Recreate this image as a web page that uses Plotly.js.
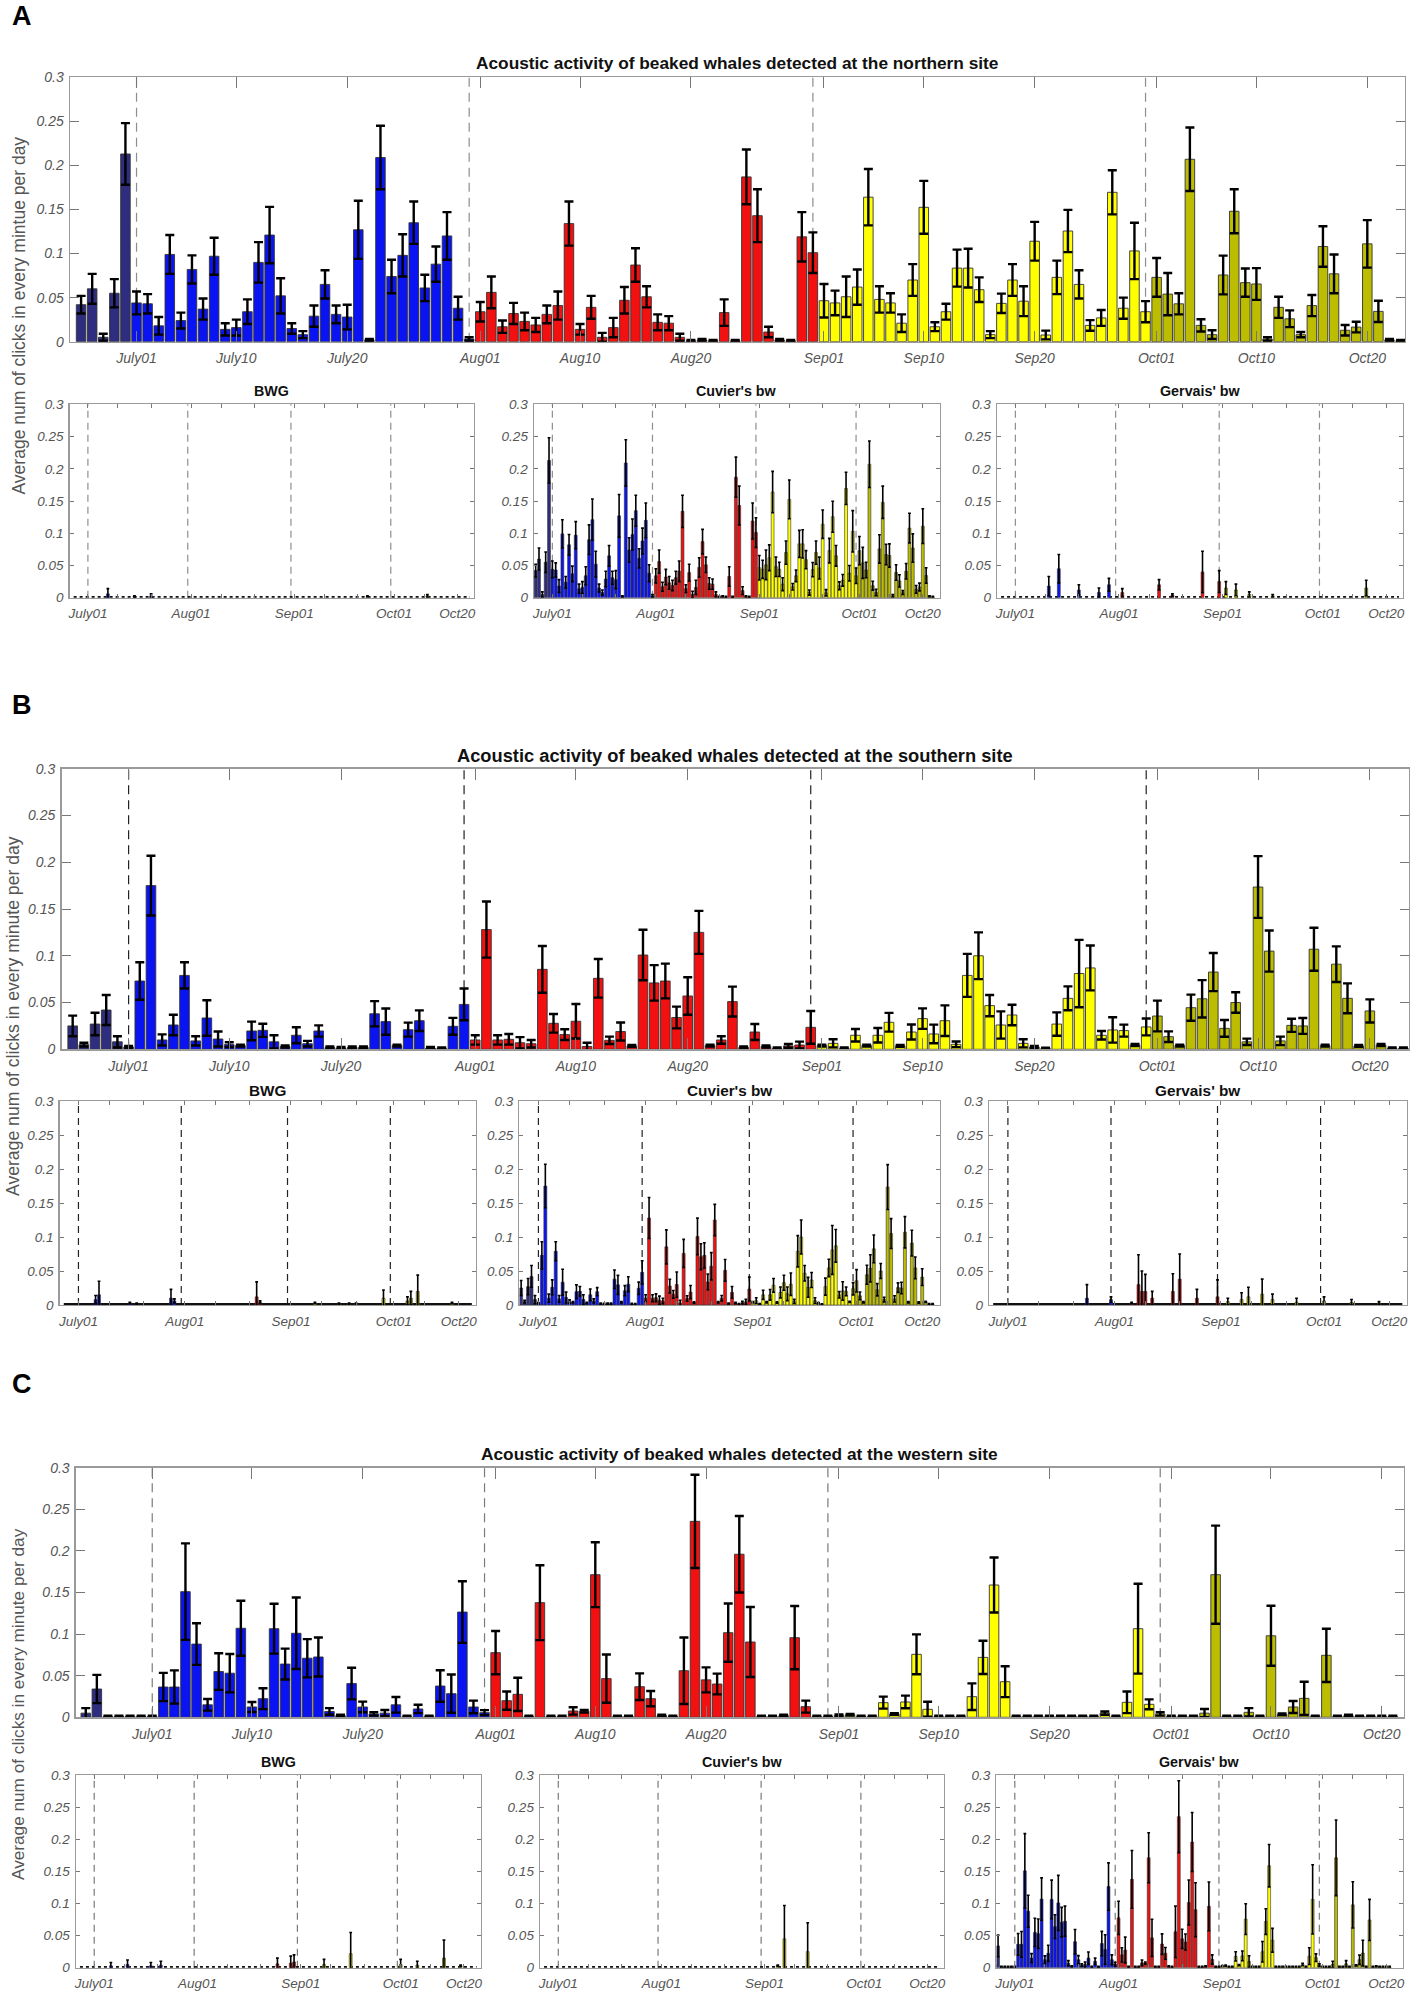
<!DOCTYPE html>
<html>
<head>
<meta charset="utf-8">
<script src="https://cdn.plot.ly/plotly-3.0.1.min.js"></script>
<style>
  html, body { margin: 0; padding: 0; background: #fff; }
  #chart { width: 1416px; height: 1998px; }
</style>
</head>
<body>
<div id="chart"></div>
<script>
// day index: 0 = July 1, 31 = Aug 1, 62 = Sep 1, 92 = Oct 1
const tickDays = [0, 9, 19, 31, 40, 50, 62, 71, 81, 92, 101, 111];
const tickLabels = ["July01", "July10", "July20", "Aug01", "Aug10", "Aug20", "Sep01", "Sep10", "Sep20", "Oct01", "Oct10", "Oct20"];
const smallTickLabels = ["July01", "", "", "Aug01", "", "", "Sep01", "", "", "Oct01", "", "Oct20"];
const monthStarts = [0, 31, 62, 92];
const monthColors = ["#2f2d80", "#0a14f2", "#f21010", "#ffff00", "#bcbc00"];
const monthLineDays = [0, 30, 61, 91];
const yTicks = [0, 0.05, 0.1, 0.15, 0.2, 0.25, 0.3];

// northern site, daily, first value = June 26 (day -5)
const northStart = -5;
const northVal = [0.042, 0.060, 0.005, 0.055, 0.213,
  0.044, 0.043, 0.018, 0.099, 0.024, 0.082, 0.037, 0.097, 0.014, 0.016,
  0.034, 0.090, 0.121, 0.052, 0.015, 0.008, 0.029, 0.065, 0.031, 0.028,
  0.127, 0.002, 0.209, 0.074, 0.098, 0.135, 0.061, 0.088, 0.120, 0.038,
  0.003, 0.034, 0.056, 0.017, 0.032, 0.023, 0.019, 0.031, 0.041, 0.134,
  0.014, 0.039, 0.005, 0.016, 0.047, 0.087, 0.051, 0.022, 0.021, 0.005,
  0.001, 0.002, 0.001, 0.033, 0.001, 0.187, 0.143, 0.011, 0.002, 0.001,
  0.119, 0.101, 0.0465, 0.044, 0.051, 0.062, 0.164, 0.048, 0.044, 0.021,
  0.070, 0.1525, 0.017, 0.034, 0.0835, 0.0835, 0.059, 0.008, 0.0435, 0.070,
  0.046, 0.114, 0.0076, 0.073, 0.1256, 0.065, 0.0185, 0.027, 0.1695, 0.038,
  0.103, 0.034, 0.073, 0.054, 0.043, 0.207, 0.0185, 0.008, 0.0757, 0.148,
  0.067, 0.0655, 0.003, 0.039, 0.026, 0.008, 0.041, 0.108, 0.077, 0.013,
  0.0166, 0.111, 0.0344, 0.002, 0.001];
const northErr = [0.010, 0.017, 0.004, 0.016, 0.035,
  0.013, 0.011, 0.010, 0.022, 0.009, 0.016, 0.012, 0.021, 0.007, 0.009,
  0.014, 0.023, 0.032, 0.020, 0.006, 0.004, 0.012, 0.016, 0.010, 0.014,
  0.033, 0.001, 0.036, 0.019, 0.024, 0.024, 0.015, 0.020, 0.027, 0.013,
  0.002, 0.011, 0.018, 0.007, 0.012, 0.010, 0.008, 0.010, 0.016, 0.025,
  0.006, 0.013, 0.005, 0.011, 0.015, 0.019, 0.012, 0.009, 0.008, 0.004,
  0.001, 0.001, 0.001, 0.015, 0.001, 0.031, 0.030, 0.006, 0.001, 0.001,
  0.028, 0.023, 0.019, 0.014, 0.023, 0.020, 0.032, 0.015, 0.011, 0.010,
  0.018, 0.030, 0.005, 0.009, 0.021, 0.022, 0.014, 0.004, 0.011, 0.018,
  0.017, 0.022, 0.005, 0.019, 0.024, 0.016, 0.006, 0.009, 0.025, 0.012,
  0.032, 0.012, 0.022, 0.024, 0.012, 0.036, 0.007, 0.005, 0.022, 0.025,
  0.016, 0.018, 0.002, 0.012, 0.0095, 0.003, 0.012, 0.023, 0.022, 0.006,
  0.006, 0.027, 0.012, 0.001, 0.001];

// southern site, first value = June 26 (day -5)
const southStart = -5;
const southVal = [0.025, 0.005, 0.027, 0.042, 0.008,
  0.0025, 0.073, 0.175, 0.010, 0.026, 0.079, 0.009, 0.0335, 0.011, 0.005,
  0.004, 0.0196, 0.0203, 0.008, 0.003, 0.015, 0.006, 0.0196, 0.002, 0.0014,
  0.002, 0.002, 0.038, 0.0296, 0.004, 0.021, 0.0306, 0.0014, 0.001, 0.0246,
  0.048, 0.010, 0.128, 0.010, 0.0107, 0.007, 0.006, 0.0855, 0.0278, 0.0157,
  0.030, 0.003, 0.0759, 0.0096, 0.019, 0.0036, 0.1008, 0.071, 0.073, 0.034,
  0.057, 0.125, 0.004, 0.010, 0.051, 0.002, 0.0185, 0.003, 0.001, 0.0036,
  0.0046, 0.0235, 0.004, 0.0064, 0.001, 0.015, 0.004, 0.015, 0.0289, 0.0036,
  0.0185, 0.0328, 0.0164, 0.0306, 0.0053, 0.079, 0.100, 0.0467, 0.026, 0.0367,
  0.0064, 0.0025, 0.0007, 0.027, 0.0545, 0.081, 0.087, 0.015, 0.0207, 0.020,
  0.0046, 0.0239, 0.0356, 0.0135, 0.004, 0.0445, 0.054, 0.0826, 0.0224, 0.050,
  0.008, 0.1735, 0.105, 0.009, 0.0256, 0.025, 0.107, 0.004, 0.091, 0.0545,
  0.0036, 0.041, 0.0046, 0.001, 0.001];
const southErr = [0.011, 0.002, 0.012, 0.016, 0.006,
  0.001, 0.020, 0.032, 0.006, 0.011, 0.014, 0.005, 0.019, 0.008, 0.0025,
  0.001, 0.010, 0.007, 0.007, 0.001, 0.0085, 0.003, 0.006, 0.001, 0.001,
  0.001, 0.001, 0.0135, 0.014, 0.001, 0.0075, 0.011, 0.001, 0.001, 0.009,
  0.017, 0.005, 0.030, 0.005, 0.0057, 0.006, 0.004, 0.025, 0.010, 0.0057,
  0.0185, 0.004, 0.0206, 0.004, 0.0096, 0.001, 0.027, 0.019, 0.0186, 0.0116,
  0.020, 0.023, 0.001, 0.004, 0.016, 0.001, 0.0086, 0.001, 0.001, 0.002,
  0.0036, 0.0175, 0.001, 0.0043, 0.001, 0.0067, 0.001, 0.0078, 0.010, 0.001,
  0.008, 0.011, 0.010, 0.0164, 0.003, 0.023, 0.025, 0.0113, 0.0146, 0.011,
  0.0043, 0.001, 0.001, 0.0125, 0.0128, 0.036, 0.024, 0.0046, 0.0136, 0.0064,
  0.001, 0.009, 0.0164, 0.0057, 0.001, 0.014, 0.020, 0.0204, 0.009, 0.011,
  0.0034, 0.033, 0.022, 0.0045, 0.007, 0.0085, 0.023, 0.001, 0.019, 0.016,
  0.001, 0.0124, 0.001, 0.001, 0.001];

// western site, first value = June 25 (day -6)
const westStart = -6;
const westVal = [0.005, 0.034, 0.001, 0.001, 0.001, 0.001,
  0.001, 0.0364, 0.0364, 0.151, 0.088, 0.015, 0.055, 0.053, 0.107, 0.0124,
  0.0224, 0.1065, 0.064, 0.101, 0.071, 0.0725, 0.007, 0.002, 0.0405, 0.0124,
  0.004, 0.005, 0.015, 0.001, 0.010, 0.001, 0.0376, 0.0284, 0.1265, 0.0124,
  0.0056, 0.0777, 0.020, 0.0276, 0.001, 0.1378, 0.001, 0.001, 0.0076, 0.0072,
  0.1714, 0.0465, 0.001, 0.001, 0.0368, 0.0224, 0.002, 0.001, 0.056, 0.2355,
  0.045, 0.040, 0.1017, 0.196, 0.0905, 0.001, 0.001, 0.002, 0.0957, 0.0128,
  0.001, 0.001, 0.0024, 0.003, 0.001, 0.001, 0.0176, 0.004, 0.0184, 0.0757,
  0.0096, 0.001, 0.001, 0.001, 0.0248, 0.072, 0.159, 0.0428, 0.001, 0.001,
  0.001, 0.001, 0.001, 0.001, 0.001, 0.001, 0.005, 0.001, 0.018, 0.1065,
  0.0156, 0.004, 0.001, 0.001, 0.001, 0.005, 0.1714, 0.001, 0.001, 0.006,
  0.001, 0.098, 0.0036, 0.0124, 0.0228, 0.001, 0.0745, 0.001, 0.002, 0.001,
  0.001, 0.001, 0.001];
const westErr = [0.006, 0.017, 0.001, 0.001, 0.001, 0.001,
  0.001, 0.017, 0.020, 0.058, 0.025, 0.007, 0.022, 0.023, 0.033, 0.006,
  0.0126, 0.030, 0.0185, 0.043, 0.023, 0.0235, 0.004, 0.001, 0.019, 0.0064,
  0.002, 0.0038, 0.0094, 0.001, 0.005, 0.001, 0.019, 0.023, 0.037, 0.0076,
  0.003, 0.026, 0.011, 0.020, 0.001, 0.045, 0.001, 0.001, 0.0044, 0.0016,
  0.039, 0.029, 0.001, 0.001, 0.016, 0.0092, 0.001, 0.001, 0.040, 0.056,
  0.015, 0.0125, 0.035, 0.046, 0.042, 0.001, 0.001, 0.001, 0.038, 0.0072,
  0.001, 0.001, 0.001, 0.001, 0.001, 0.001, 0.0072, 0.001, 0.0076, 0.024,
  0.009, 0.001, 0.001, 0.001, 0.016, 0.020, 0.033, 0.0185, 0.001, 0.001,
  0.001, 0.001, 0.001, 0.001, 0.001, 0.001, 0.002, 0.001, 0.013, 0.054,
  0.006, 0.002, 0.001, 0.001, 0.001, 0.005, 0.059, 0.001, 0.001, 0.005,
  0.001, 0.036, 0.001, 0.0072, 0.020, 0.001, 0.032, 0.001, 0.001, 0.001,
  0.001, 0.001, 0.001];

// sparse species panels: day index, mean, error
const northBwgDay = [6, 14, 19, 84, 102];
const northBwgVal = [0.006, 0.002, 0.003, 0.002, 0.003];
const northBwgErr = [0.008, 0.001, 0.003, 0.001, 0.002];
const northGerDay = [10, 13, 19, 25, 28, 32, 43, 47, 56, 61, 63, 66, 70, 77, 105];
const northGerVal = [0.018, 0.045, 0.012, 0.008, 0.020, 0.008, 0.020, 0.004, 0.040, 0.025, 0.015, 0.012, 0.005, 0.003, 0.015];
const northGerErr = [0.015, 0.022, 0.008, 0.007, 0.010, 0.006, 0.008, 0.002, 0.032, 0.017, 0.010, 0.009, 0.004, 0.002, 0.012];

const southBwgDay = [5, 6, 15, 17, 27, 28, 52, 53, 69, 76, 79, 81, 89, 96, 97, 99, 109];
const southBwgVal = [0.008, 0.015, 0.003, 0.002, 0.010, 0.006, 0.012, 0.004, 0.003, 0.002, 0.002, 0.002, 0.010, 0.006, 0.010, 0.020, 0.003];
const southBwgErr = [0.006, 0.020, 0.001, 0.001, 0.013, 0.003, 0.022, 0.002, 0.001, 0.001, 0.001, 0.001, 0.012, 0.006, 0.010, 0.024, 0.001];
const southGerDay = [23, 30, 36, 38, 39, 40, 42, 48, 50, 55, 61, 64, 68, 70, 74, 77, 84, 92, 100, 108];
const southGerVal = [0.010, 0.008, 0.003, 0.030, 0.020, 0.020, 0.010, 0.020, 0.038, 0.010, 0.012, 0.005, 0.008, 0.012, 0.016, 0.008, 0.004, 0.006, 0.004, 0.003];
const southGerErr = [0.020, 0.004, 0.001, 0.044, 0.030, 0.025, 0.010, 0.026, 0.037, 0.013, 0.025, 0.005, 0.010, 0.014, 0.022, 0.008, 0.006, 0.006, 0.004, 0.002];

const westBwgDay = [5, 10, 17, 20, 55, 59, 60, 69, 77, 92, 97, 105, 110];
const westBwgVal = [0.003, 0.005, 0.003, 0.004, 0.006, 0.007, 0.009, 0.005, 0.022, 0.005, 0.004, 0.015, 0.003];
const westBwgErr = [0.005, 0.007, 0.005, 0.006, 0.009, 0.011, 0.011, 0.008, 0.033, 0.008, 0.006, 0.028, 0.001];
const westCuvDay = [66, 68, 75];
const westCuvVal = [0.003, 0.045, 0.025];
const westCuvErr = [0.001, 0.052, 0.045];

const narrow = "Liberation Sans Narrow, Arial Narrow, Liberation Sans, Arial, sans-serif";
const W = 1416, H = 1998;

function dayRange(start, n) {
    let out = [];
    for(let i = 0; i < n; i++) out.push(start + i);
    return out;
}

function colorOf(d) {
    let k = 0;
    monthStarts.forEach(s => { if(d >= s) k++; });
    return monthColors[k];
}

// layout boxes in page pixels
const sites = [
    {
        letter: "A", letterY: 16, titleY: 63, titleSize: 17.3,
        title: "Acoustic activity of beaked whales detected at the northern site",
        yTitle: "Average num of clicks in every mintue per day", yTitleX: 18.5, yTitleY: 316, yTitleSize: 17.5,
        dash: "#8e8e8e", base: "dot",
        top: {x: [70, 1405], y: [77.3, 341.7], range: [-6, 114.4]},
        small: {y: [404.3, 597.7], titleY: 391, xs: [[69.6, 474], [534, 939.5], [997, 1403]]},
        main: {day: dayRange(northStart, northVal.length), val: northVal, err: northErr},
        species: [
            {day: northBwgDay, val: northBwgVal, err: northBwgErr, sparse: true},
            {day: dayRange(northStart, northVal.length), val: northVal, err: northErr, sparse: false},
            {day: northGerDay, val: northGerVal, err: northGerErr, sparse: true}
        ]
    },
    {
        letter: "B", letterY: 705, titleY: 755, titleSize: 18.3,
        title: "Acoustic activity of beaked whales detected at the southern site",
        yTitle: "Average num of clicks in every minute per day", yTitleX: 13, yTitleY: 1016, yTitleSize: 17.6,
        dash: "#222222", base: "solid",
        top: {x: [61.5, 1409], y: [768.7, 1049.3], range: [-6, 114.5]},
        small: {y: [1101, 1305], titleY: 1090, xs: [[59.6, 476], [519.4, 939.5], [989, 1406.5]]},
        main: {day: dayRange(southStart, southVal.length), val: southVal, err: southErr},
        species: [
            {day: southBwgDay, val: southBwgVal, err: southBwgErr, sparse: true},
            {day: dayRange(southStart, southVal.length), val: southVal, err: southErr, sparse: false},
            {day: southGerDay, val: southGerVal, err: southGerErr, sparse: true}
        ]
    },
    {
        letter: "C", letterY: 1384, titleY: 1454, titleSize: 17.3,
        title: "Acoustic activity of beaked whales detected at the western site",
        yTitle: "Average num of clicks in every minute per day", yTitleX: 18, yTitleY: 1704, yTitleSize: 17.2,
        dash: "#7a7a7a", base: "dot",
        top: {x: [75.8, 1403.9], y: [1467.7, 1717.3], range: [-6.9, 113]},
        small: {y: [1775.3, 1967.7], titleY: 1762, xs: [[75.9, 480.6], [540, 944], [996.4, 1403]]},
        main: {day: dayRange(westStart, westVal.length), val: westVal, err: westErr},
        species: [
            {day: westBwgDay, val: westBwgVal, err: westBwgErr, sparse: true},
            {day: westCuvDay, val: westCuvVal, err: westCuvErr, sparse: true},
            {day: dayRange(westStart, westVal.length), val: westVal, err: westErr, sparse: false}
        ]
    }
];
const speciesNames = ["BWG", "Cuvier's bw", "Gervais' bw"];

let traces = [];
let layout = {
    width: W, height: H,
    margin: {l: 0, r: 0, t: 0, b: 0},
    paper_bgcolor: "#fff", plot_bgcolor: "#fff",
    showlegend: false,
    annotations: [],
    shapes: []
};

let axisN = 0;

function addPanel(site, box, yBox, range, data, isTop, sparse) {
    axisN++;
    const n = axisN === 1 ? "" : String(axisN);
    const xa = "x" + n, ya = "y" + n;

    traces.push({
        type: "bar",
        x: data.day, y: data.val,
        width: 0.86,
        marker: {color: data.day.map(colorOf), line: {color: "#333", width: isTop ? 0.9 : 0.6}},
        error_y: {type: "data", array: data.err, visible: true, color: "#000",
                  thickness: isTop ? 2.4 : 1.6, width: isTop ? 4.5 : 1.4},
        xaxis: xa, yaxis: ya, hoverinfo: "skip"
    });

    const tickFont = {family: narrow, size: isTop ? 14 : 13.5, color: "#555", style: "italic"};
    layout["xaxis" + n] = {
        domain: [box[0] / W, box[1] / W], range: range, anchor: ya,
        tickmode: "array", tickvals: tickDays, ticktext: isTop ? tickLabels : smallTickLabels,
        ticks: "inside", ticklen: isTop ? 11 : 4, tickcolor: "#777", tickwidth: 1,
        showline: true, linecolor: "#9a9a9a", linewidth: 1.4, mirror: "ticks",
        showgrid: false, zeroline: false, tickfont: tickFont, ticklabelstandoff: 3,
        fixedrange: true
    };
    layout["yaxis" + n] = {
        domain: [1 - yBox[1] / H, 1 - yBox[0] / H], range: [0, 0.3], anchor: xa,
        tickmode: "array", tickvals: yTicks,
        ticks: "inside", ticklen: isTop ? 9 : 4, tickcolor: "#777", tickwidth: 1,
        showline: true, linecolor: "#9a9a9a", linewidth: 1.4, mirror: "ticks",
        showgrid: false, zeroline: false, tickfont: tickFont, ticklabelstandoff: 2,
        fixedrange: true
    };

    monthLineDays.forEach(d => {
        layout.shapes.push({
            type: "line", layer: "below", xref: xa, yref: ya + " domain",
            x0: d, x1: d, y0: 0, y1: 1,
            line: {color: site.dash, width: 1.2, dash: isTop ? "9px,6px" : "7px,5px"}
        });
    });
    if(sparse) {
        layout.shapes.push({
            type: "line", layer: "below", xref: xa + " domain", yref: ya,
            x0: 0.01, x1: 0.99, y0: 0.0008, y1: 0.0008,
            line: {color: "#111", width: site.base === "solid" ? 3 : 2.4, dash: site.base}
        });
    }
}

sites.forEach(site => {
    addPanel(site, site.top.x, site.top.y, site.top.range, site.main, true, false);
    site.species.forEach((sp, i) => {
        addPanel(site, site.small.xs[i], site.small.y, [-5.5, 116], sp, false, sp.sparse);
        layout.annotations.push({
            xref: "paper", yref: "paper",
            x: (site.small.xs[i][0] + site.small.xs[i][1]) / 2 / W, y: 1 - site.small.titleY / H,
            text: "<b>" + speciesNames[i] + "</b>", showarrow: false,
            font: {family: narrow, size: site.titleSize - 3, color: "#111"},
            xanchor: "center", yanchor: "middle"
        });
    });

    layout.annotations.push({
        xref: "paper", yref: "paper",
        x: (site.top.x[0] + site.top.x[1]) / 2 / W, y: 1 - site.titleY / H,
        text: "<b>" + site.title + "</b>", showarrow: false,
        font: {family: narrow, size: site.titleSize, color: "#111"},
        xanchor: "center", yanchor: "middle"
    });
    layout.annotations.push({
        xref: "paper", yref: "paper",
        x: 10 / W, y: 1 - site.letterY / H,
        text: "<b>" + site.letter + "</b>", showarrow: false,
        font: {family: narrow, size: 27, color: "#000"},
        xanchor: "left", yanchor: "middle"
    });
    layout.annotations.push({
        xref: "paper", yref: "paper",
        x: site.yTitleX / W, y: 1 - site.yTitleY / H,
        text: site.yTitle, showarrow: false, textangle: -90,
        font: {family: "Liberation Sans, Arial, sans-serif", size: site.yTitleSize, color: "#555"},
        xanchor: "center", yanchor: "middle"
    });
});

Plotly.newPlot("chart", traces, layout, {staticPlot: true, displayModeBar: false});
</script>
</body>
</html>
